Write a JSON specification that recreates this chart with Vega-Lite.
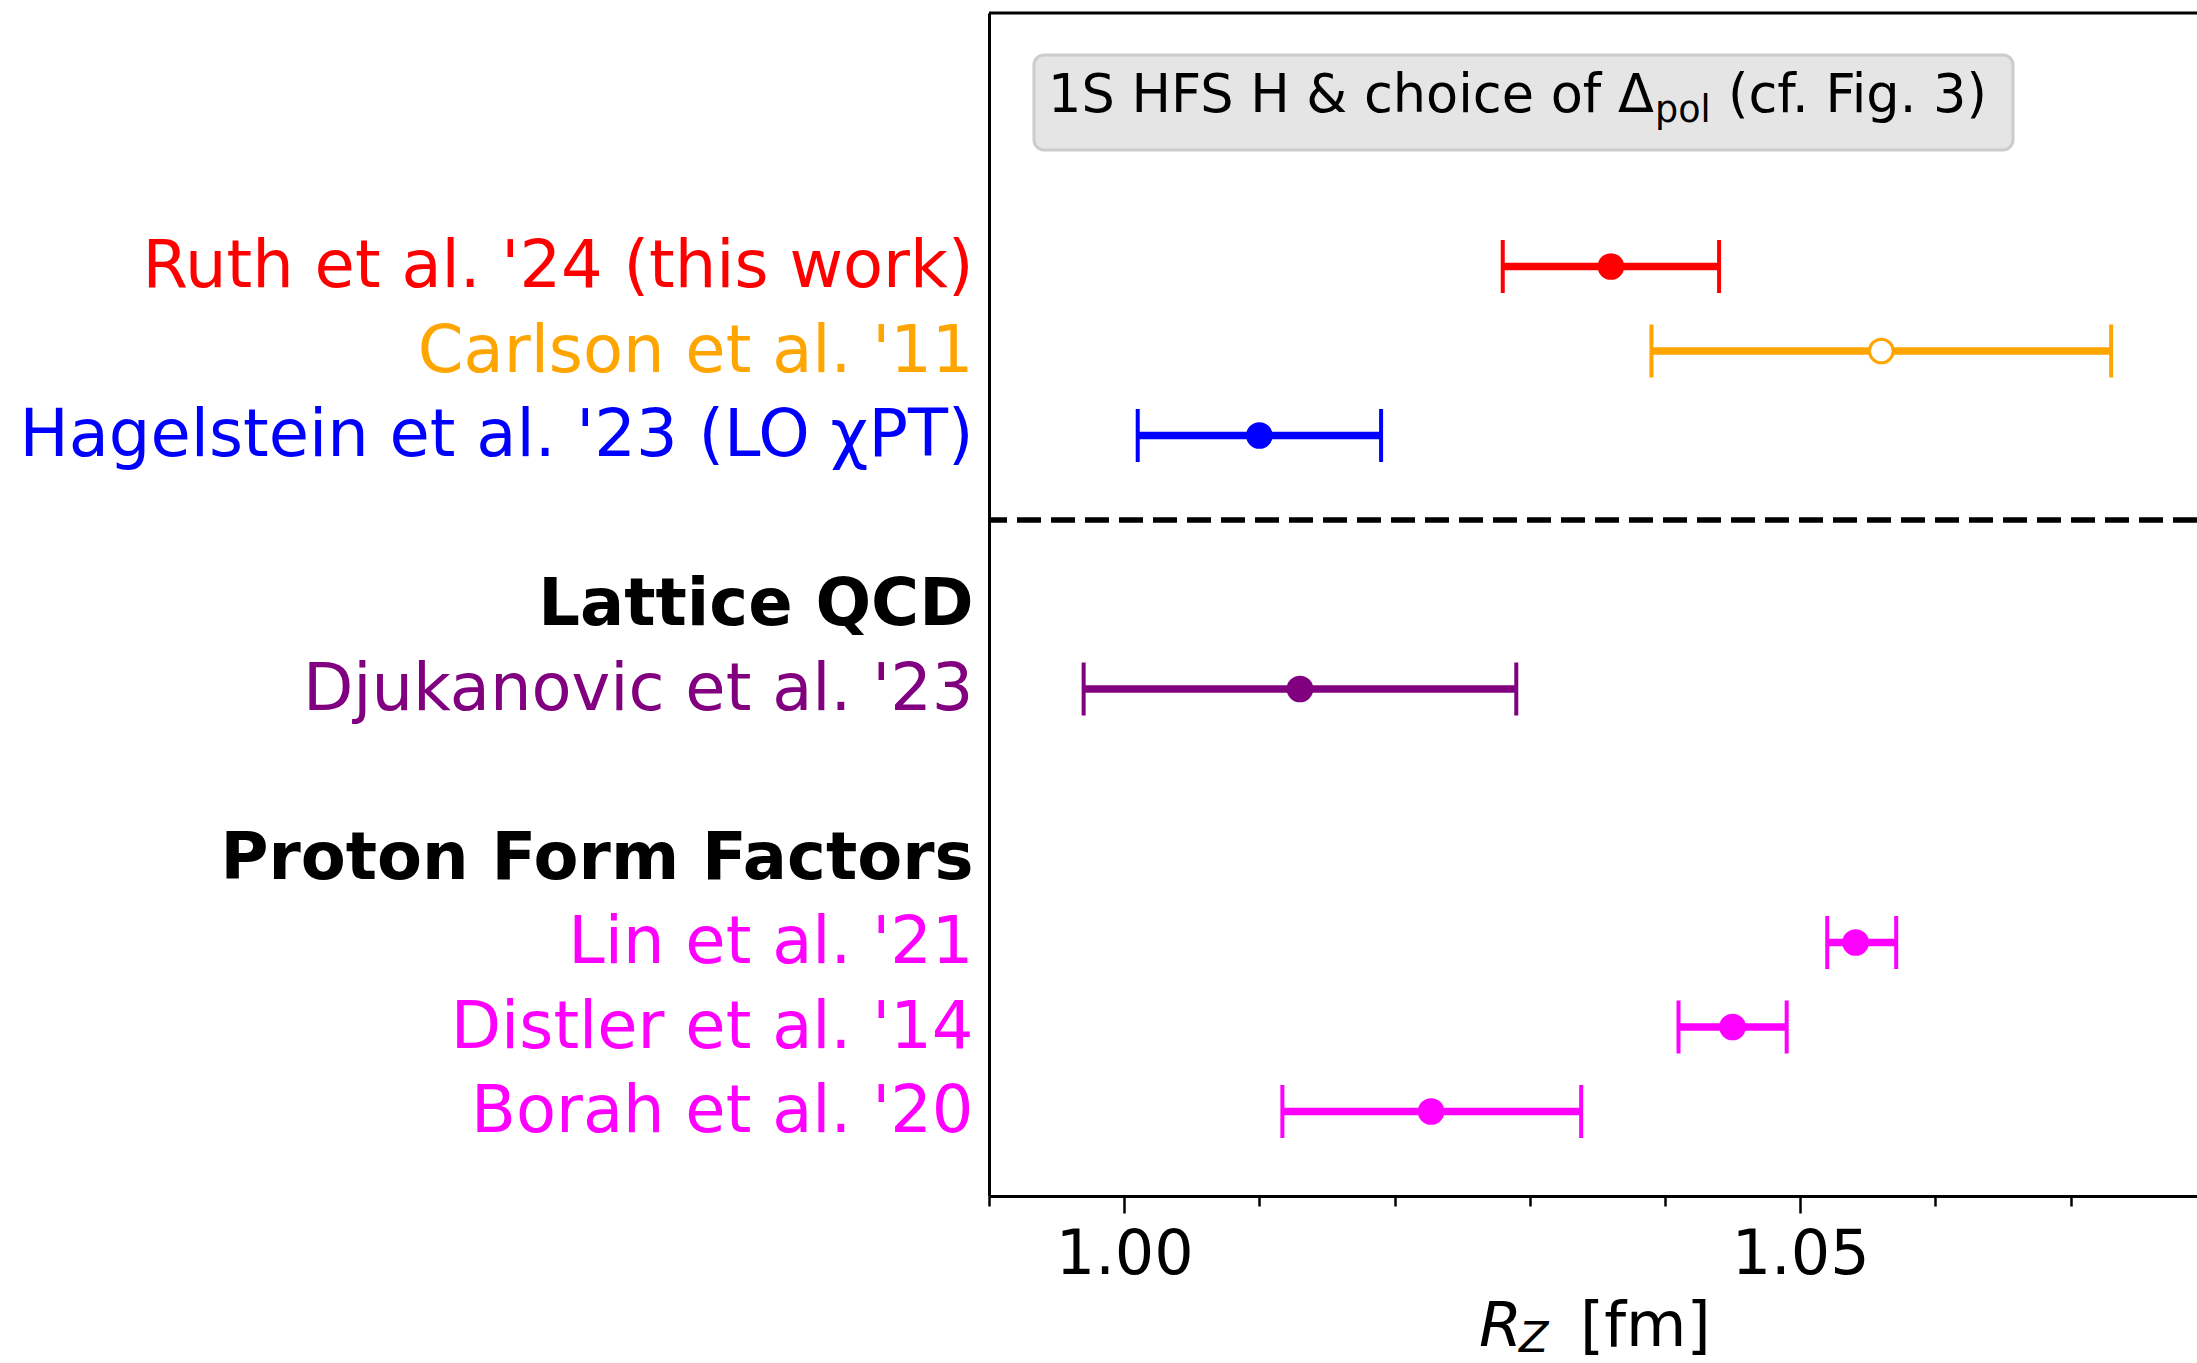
{
  "$schema": "https://vega.github.io/schema/vega-lite/v6.json",
  "width": 1208,
  "height": 1183,
  "autosize": {"type": "none"},
  "padding": {"left": 989, "top": 13, "right": 0, "bottom": 167},
  "background": "white",
  "config": {
    "view": {"stroke": null},
    "font": "DejaVu Sans",
    "axis": {"labelFont": "DejaVu Sans", "titleFont": "DejaVu Sans", "grid": false}
  },
  "datasets": {
    "radii": [
      {"label": "Ruth et al. '24 (this work)", "source": "this work", "value": 1.036, "lo": 1.028, "hi": 1.044},
      {"label": "Carlson et al. '11", "source": "dispersive", "value": 1.056, "lo": 1.039, "hi": 1.073},
      {"label": "Hagelstein et al. '23 (LO χPT)", "source": "LO chiPT", "value": 1.010, "lo": 1.001, "hi": 1.019},
      {"label": "Djukanovic et al. '23", "source": "lattice QCD", "value": 1.013, "lo": 0.997, "hi": 1.029},
      {"label": "Lin et al. '21", "source": "form factors", "value": 1.0541, "lo": 1.0520, "hi": 1.0571},
      {"label": "Distler et al. '14", "source": "form factors", "value": 1.045, "lo": 1.041, "hi": 1.049},
      {"label": "Borah et al. '20", "source": "form factors", "value": 1.0227, "lo": 1.0117, "hi": 1.0338}
    ]
  },
  "resolve": {"scale": {"y": "independent"}},
  "layer": [
    {
      "data": {"name": "radii"},
      "encoding": {
        "y": {
          "field": "label",
          "type": "nominal",
          "scale": {
            "type": "point",
            "domain": [
              "   ",
              "    ",
              "     ",
              "Ruth et al. '24 (this work)",
              "Carlson et al. '11",
              "Hagelstein et al. '23 (LO χPT)",
              " ",
              "Lattice QCD",
              "Djukanovic et al. '23",
              "  ",
              "Proton Form Factors",
              "Lin et al. '21",
              "Distler et al. '14",
              "Borah et al. '20",
              "      "
            ],
            "padding": 0
          },
          "axis": {
            "title": null,
            "ticks": false,
            "tickSize": 0,
            "domain": true,
            "domainColor": "black",
            "domainWidth": 3,
            "labelPadding": 16,
            "labelFontSize": 65.5,
            "labelLimit": 3000,
            "labelBaseline": "middle",
            "labelColor": {
              "condition": [
                {"test": "datum.value === \"Ruth et al. '24 (this work)\"", "value": "#ff0000"},
                {"test": "datum.value === \"Carlson et al. '11\"", "value": "#ffa500"},
                {"test": "datum.value === \"Hagelstein et al. '23 (LO χPT)\"", "value": "#0000ff"},
                {"test": "datum.value === \"Djukanovic et al. '23\"", "value": "#800080"},
                {"test": "datum.value === \"Lin et al. '21\" || datum.value === \"Distler et al. '14\" || datum.value === \"Borah et al. '20\"", "value": "#ff00ff"}
              ],
              "value": "black"
            },
            "labelFontWeight": {
              "condition": {"test": "datum.value === 'Lattice QCD' || datum.value === 'Proton Form Factors'", "value": "bold"},
              "value": "normal"
            }
          }
        },
        "x": {
          "field": "value",
          "type": "quantitative",
          "scale": {"domain": [0.99, 1.07935], "nice": false, "zero": false},
          "axis": {
            "title": null,
            "values": [0.99, 1.0, 1.01, 1.02, 1.03, 1.04, 1.05, 1.06, 1.07],
            "format": ".2f",
            "labelExpr": "(abs(datum.value - 1.0) < 1e-9 || abs(datum.value - 1.05) < 1e-9) ? datum.label : ''",
            "tickSize": {
              "condition": {"test": "abs(datum.value - 1.0) < 1e-9 || abs(datum.value - 1.05) < 1e-9", "value": 17},
              "value": 10
            },
            "tickWidth": 2.5,
            "tickColor": "black",
            "domainColor": "black",
            "domainWidth": 3,
            "labelFontSize": 62,
            "labelColor": "black",
            "labelPadding": 11,
            "labelFlush": false,
            "labelOverlap": false
          }
        }
      },
      "layer": [
        {
          "data": {"values": [{}]},
          "mark": {"type": "rule", "color": "black", "strokeWidth": 5.5, "strokeDash": [24, 10]},
          "encoding": {"y": {"datum": " "}, "x": null}
        },
        {
          "mark": {"type": "rule", "strokeWidth": 7.5, "opacity": 1},
          "encoding": {
            "x": {"field": "lo", "type": "quantitative"},
            "x2": {"field": "hi"},
            "color": {
              "field": "source", "type": "nominal", "legend": null,
              "scale": {"domain": ["this work", "dispersive", "LO chiPT", "lattice QCD", "form factors"],
                        "range": ["#ff0000", "#ffa500", "#0000ff", "#800080", "#ff00ff"]}
            }
          }
        },
        {
          "mark": {"type": "tick", "thickness": 4, "size": 53, "opacity": 1},
          "encoding": {
            "x": {"field": "lo", "type": "quantitative"},
            "color": {"field": "source", "type": "nominal", "legend": null}
          }
        },
        {
          "mark": {"type": "tick", "thickness": 4, "size": 53, "opacity": 1},
          "encoding": {
            "x": {"field": "hi", "type": "quantitative"},
            "color": {"field": "source", "type": "nominal", "legend": null}
          }
        },
        {
          "mark": {"type": "point", "shape": "circle", "size": 560, "strokeWidth": 3, "opacity": 1, "filled": false},
          "encoding": {
            "x": {"field": "value", "type": "quantitative"},
            "stroke": {
              "field": "source", "type": "nominal", "legend": null,
              "scale": {"domain": ["this work", "dispersive", "LO chiPT", "lattice QCD", "form factors"],
                        "range": ["#ff0000", "#ffa500", "#0000ff", "#800080", "#ff00ff"]}
            },
            "fill": {
              "condition": {"test": "datum.source === 'dispersive'", "value": "white"},
              "field": "source", "type": "nominal", "legend": null,
              "scale": {"domain": ["this work", "dispersive", "LO chiPT", "lattice QCD", "form factors"],
                        "range": ["#ff0000", "#ffa500", "#0000ff", "#800080", "#ff00ff"]}
            }
          }
        }
      ]
    },
    {
      "data": {"values": [{}]},
      "layer": [
        {
          "mark": {"type": "rule", "color": "black", "strokeWidth": 3},
          "encoding": {
            "y": {"datum": -3, "type": "quantitative",
                  "scale": {"domain": [-3, 11], "reverse": true, "nice": false, "zero": false},
                  "axis": null}
          }
        },
        {
          "mark": {"type": "rect", "fill": "#e5e5e5", "stroke": "#cccccc", "strokeWidth": 3, "cornerRadius": 10},
          "encoding": {
            "x": {"datum": 0.993328, "type": "quantitative"},
            "x2": {"datum": 1.06574},
            "y": {"datum": -2.503, "type": "quantitative"},
            "y2": {"datum": -1.379}
          }
        },
        {
          "mark": {"type": "text", "font": "DejaVu Sans", "fontSize": 52.5, "align": "left", "baseline": "alphabetic", "color": "black"},
          "encoding": {
            "x": {"datum": 0.994364, "type": "quantitative"},
            "y": {"datum": -1.828, "type": "quantitative"},
            "text": {"value": "1S HFS H & choice of Δ"}
          }
        },
        {
          "mark": {"type": "text", "font": "DejaVu Sans", "fontSize": 36.5, "align": "left", "baseline": "alphabetic", "color": "black"},
          "encoding": {
            "x": {"datum": 1.03926, "type": "quantitative"},
            "y": {"datum": -1.71, "type": "quantitative"},
            "text": {"value": "pol"}
          }
        },
        {
          "mark": {"type": "text", "font": "DejaVu Sans", "fontSize": 52.5, "align": "left", "baseline": "alphabetic", "color": "black"},
          "encoding": {
            "x": {"datum": 1.04466, "type": "quantitative"},
            "y": {"datum": -1.828, "type": "quantitative"},
            "text": {"value": "(cf. Fig. 3)"}
          }
        },
        {
          "mark": {"type": "text", "font": "DejaVu Sans", "fontSize": 62, "fontStyle": "italic", "align": "left", "baseline": "alphabetic", "color": "black"},
          "encoding": {
            "x": {"datum": 1.026243, "type": "quantitative"},
            "y": {"datum": 12.78, "type": "quantitative"},
            "text": {"value": "R"}
          }
        },
        {
          "mark": {"type": "text", "font": "DejaVu Sans", "fontSize": 43, "fontStyle": "italic", "align": "left", "baseline": "alphabetic", "color": "black"},
          "encoding": {
            "x": {"datum": 1.029201, "type": "quantitative"},
            "y": {"datum": 12.846, "type": "quantitative"},
            "text": {"value": "Z"}
          }
        },
        {
          "mark": {"type": "text", "font": "DejaVu Sans", "fontSize": 62, "align": "left", "baseline": "alphabetic", "color": "black"},
          "encoding": {
            "x": {"datum": 1.033713, "type": "quantitative"},
            "y": {"datum": 12.78, "type": "quantitative"},
            "text": {"value": "[fm]"}
          }
        }
      ]
    }
  ]
}
